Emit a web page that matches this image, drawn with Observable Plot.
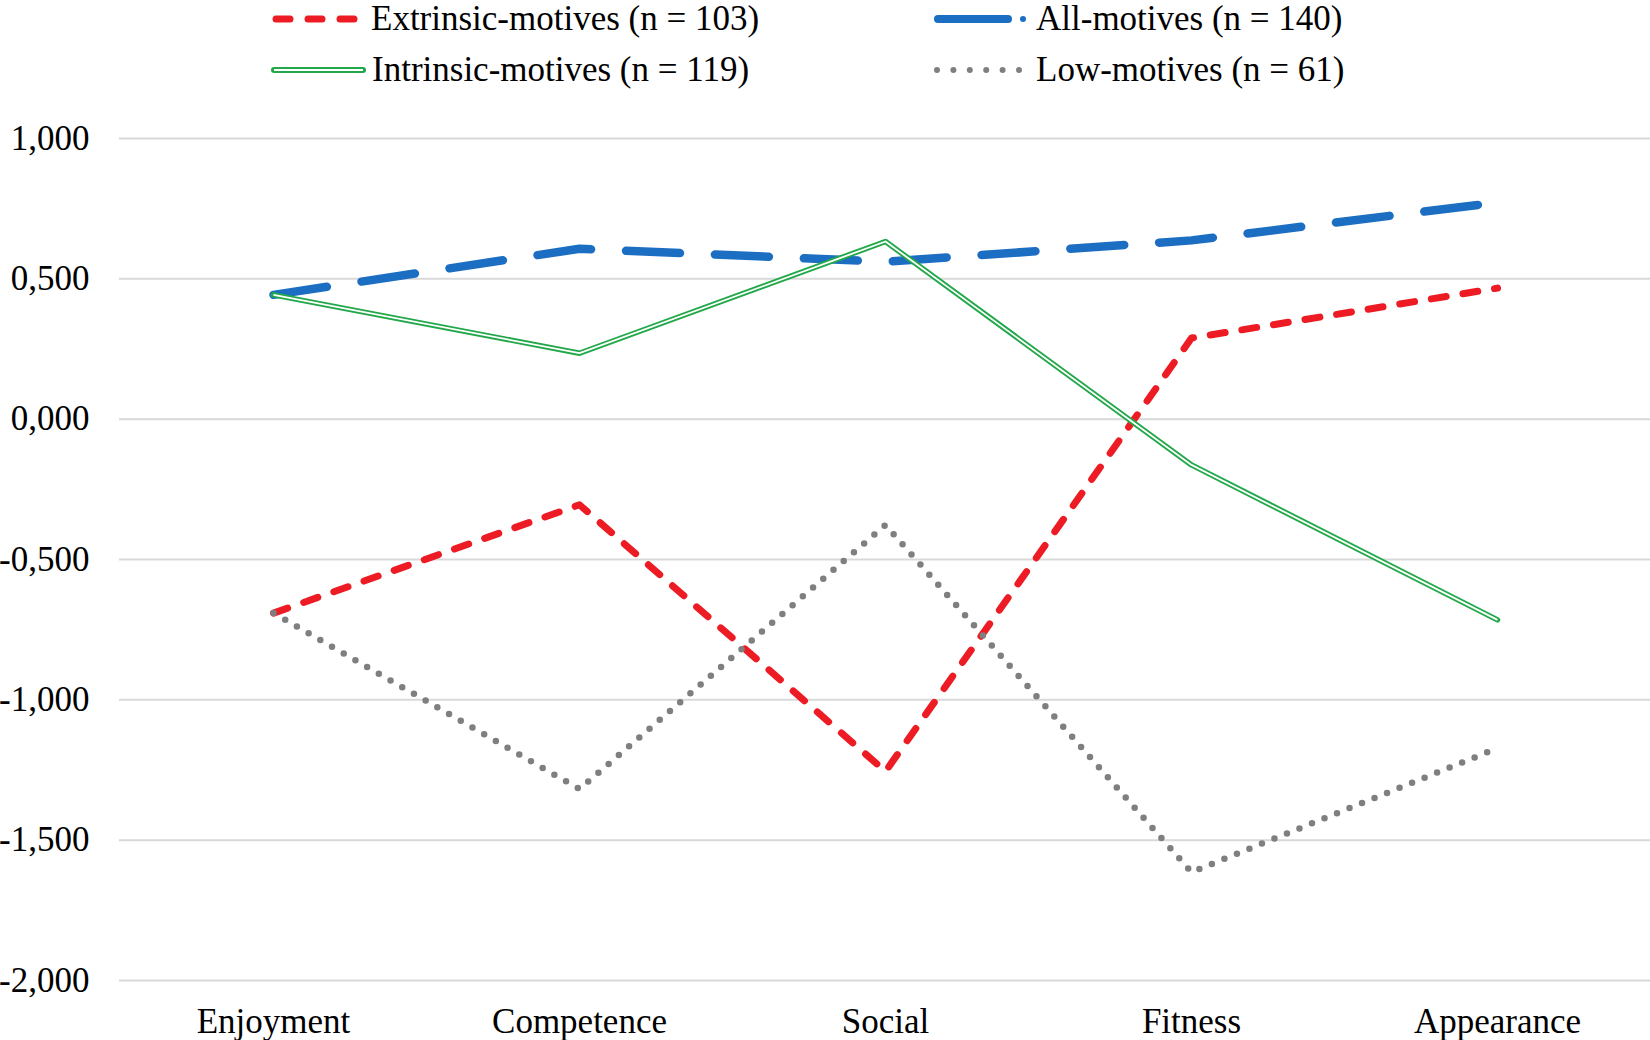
<!DOCTYPE html>
<html>
<head>
<meta charset="utf-8">
<script src="https://cdn.jsdelivr.net/npm/d3@7"></script>
<script src="https://cdn.jsdelivr.net/npm/@observablehq/plot@0.6"></script>
<style>
  body { margin: 0; background: #fff; font-family: "Liberation Serif", "Times New Roman", serif; }
  #wrap { width: 1650px; }
  #legend { position: relative; width: 1650px; height: 100px; }
  .lg-text { position: absolute; font-size: 35px; line-height: 30px; color: #000; white-space: nowrap; }
  .lg-sw { position: absolute; }
</style>
</head>
<body>
<div id="wrap">
  <div id="legend"></div>
  <div id="chart"></div>
</div>
<script>
// ---- data ----
const categories = ["Enjoyment", "Competence", "Social", "Fitness", "Appearance"];
const extrinsic = [-0.691, -0.305, -1.255, 0.289, 0.467];
const allMotives = [0.443, 0.607, 0.561, 0.637, 0.772];
const intrinsic = [0.443, 0.235, 0.633, -0.163, -0.715];
const lowMotives = [-0.691, -1.318, -0.377, -1.614, -1.172];
const yTicks = [-2, -1.5, -1, -0.5, 0, 0.5, 1];
const seriesNames = ["Extrinsic-motives (n = 103)", "All-motives (n = 140)", "Intrinsic-motives (n = 119)", "Low-motives (n = 61)"];

const colors = { red: "#ED1C24", blue: "#1B6EC2", green: "#22A84A", gray: "#7F7F7F" };

const toRows = arr => categories.map((c, i) => ({ category: c, value: arr[i] }));
const rExt = toRows(extrinsic), rAll = toRows(allMotives), rInt = toRows(intrinsic), rLow = toRows(lowMotives);

const fmt = v => d3.format(".3f")(v).replace("−", "-").replace(".", ",");

const chart = Plot.plot({
  width: 1650,
  height: 940,
  marginTop: 38,
  marginBottom: 60,
  marginLeft: 119,
  marginRight: 0,
  x: { type: "point", domain: categories, padding: 0.5 },
  y: { domain: [-2, 1] },
  style: { fontFamily: "Liberation Serif, Times New Roman, serif", fontSize: "35px", color: "#000", background: "#fff", overflow: "visible" },
  marks: [
    Plot.ruleY(yTicks, { stroke: "#D9D9D9", strokeWidth: 2 }),
    Plot.axisY({ ticks: yTicks, tickSize: 0, tickPadding: 30, tickFormat: fmt, label: null, fontSize: 35 }),
    Plot.axisX({ tickSize: 0, tickPadding: 28, label: null, fontSize: 35 }),
    Plot.line(rExt, { x: "category", y: "value", stroke: colors.red, strokeWidth: 7, strokeDasharray: "15 17", strokeLinecap: "round", strokeLinejoin: "round" }),
    Plot.line(rAll, { x: "category", y: "value", stroke: colors.blue, strokeWidth: 8.5, strokeDasharray: "54 35", strokeLinecap: "round", strokeLinejoin: "round" }),
    Plot.line(rInt, { x: "category", y: "value", stroke: colors.green, strokeWidth: 5.5, strokeLinecap: "round", strokeLinejoin: "round" }),
    Plot.line(rInt, { x: "category", y: "value", stroke: "#fff", strokeWidth: 1.8, strokeLinecap: "butt", strokeLinejoin: "round" }),
    Plot.line(rLow, { x: "category", y: "value", stroke: colors.gray, strokeWidth: 6.5, strokeDasharray: "0 13.5", strokeLinecap: "round", strokeLinejoin: "round" })
  ]
});
document.getElementById("chart").appendChild(chart);

// ---- legend ----
const legend = document.getElementById("legend");
const items = [
  { name: seriesNames[0], sx: 271, sw: 90, tx: 371, cy: 19, kind: "red" },
  { name: seriesNames[1], sx: 933, sw: 95, tx: 1036, cy: 19, kind: "blue" },
  { name: seriesNames[2], sx: 271, sw: 95, tx: 372, cy: 70, kind: "green" },
  { name: seriesNames[3], sx: 933, sw: 90, tx: 1036, cy: 70, kind: "gray" }
];
const ns = "http://www.w3.org/2000/svg";
for (const it of items) {
  const svg = document.createElementNS(ns, "svg");
  svg.setAttribute("class", "lg-sw");
  svg.setAttribute("width", it.sw);
  svg.setAttribute("height", 20);
  svg.style.left = it.sx + "px";
  svg.style.top = (it.cy - 10) + "px";
  const mk = (attrs) => {
    const l = document.createElementNS(ns, "line");
    for (const k in attrs) l.setAttribute(k, attrs[k]);
    svg.appendChild(l);
  };
  if (it.kind === "red") {
    mk({ x1: 5, x2: it.sw - 5, y1: 10, y2: 10, stroke: colors.red, "stroke-width": 7, "stroke-dasharray": "14 18", "stroke-linecap": "round" });
  } else if (it.kind === "blue") {
    mk({ x1: 5, x2: 75, y1: 10, y2: 10, stroke: colors.blue, "stroke-width": 8, "stroke-linecap": "round" });
    mk({ x1: 90, x2: 90, y1: 10, y2: 10, stroke: colors.blue, "stroke-width": 6, "stroke-linecap": "round" });
  } else if (it.kind === "green") {
    mk({ x1: 3, x2: it.sw - 3, y1: 10, y2: 10, stroke: colors.green, "stroke-width": 6, "stroke-linecap": "round" });
    mk({ x1: 3, x2: it.sw - 3, y1: 10, y2: 10, stroke: "#fff", "stroke-width": 2 });
  } else {
    mk({ x1: 4, x2: it.sw - 4, y1: 10, y2: 10, stroke: colors.gray, "stroke-width": 6, "stroke-dasharray": "0 16.4", "stroke-linecap": "round" });
  }
  legend.appendChild(svg);
  const t = document.createElement("div");
  t.className = "lg-text";
  t.textContent = it.name;
  t.style.left = it.tx + "px";
  t.style.top = (it.cy - 15) + "px";
  legend.appendChild(t);
}
</script>
</body>
</html>
